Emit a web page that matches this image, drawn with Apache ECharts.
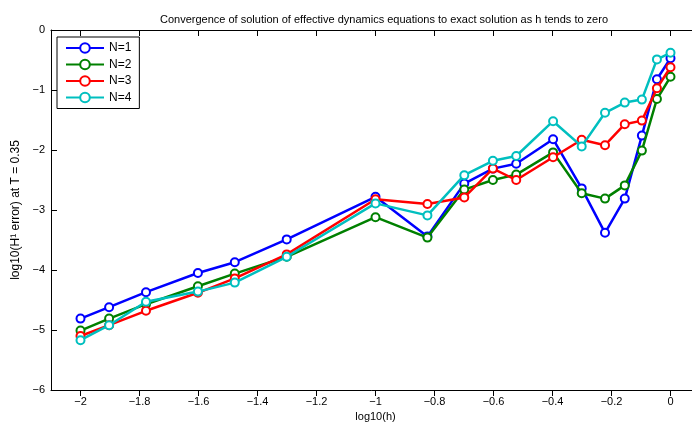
<!DOCTYPE html>
<html>
<head>
<meta charset="utf-8">
<script src="https://cdn.jsdelivr.net/npm/echarts@6/dist/echarts.min.js"></script>
<style>
  html, body { margin: 0; padding: 0; background: #fff; }
  #chart { width: 692px; height: 426px; }
</style>
</head>
<body>
<div id="chart"></div>
<script>
// log10(h) for each run
const logH = [-2, -1.903, -1.778, -1.602, -1.477, -1.301, -1, -0.824, -0.699,
  -0.602, -0.523, -0.398, -0.301, -0.222, -0.155, -0.097, -0.046, 0];

// log10(H1 error) at T = 0.35, one list per N
const errN1 = [-4.81, -4.62, -4.37, -4.05, -3.87, -3.49, -2.78, -3.44, -2.56,
  -2.31, -2.23, -1.82, -2.64, -3.38, -2.81, -1.76, -0.82, -0.47];
const errN2 = [-5.01, -4.81, -4.57, -4.27, -4.06, -3.78, -3.12, -3.46, -2.66,
  -2.50, -2.41, -2.04, -2.72, -2.81, -2.59, -2.01, -1.15, -0.78];
const errN3 = [-5.10, -4.92, -4.68, -4.38, -4.14, -3.74, -2.82, -2.90, -2.79,
  -2.31, -2.50, -2.12, -1.83, -1.92, -1.57, -1.51, -0.97, -0.62];
const errN4 = [-5.17, -4.92, -4.53, -4.36, -4.21, -3.78, -2.89, -3.09, -2.42,
  -2.18, -2.10, -1.52, -1.94, -1.38, -1.21, -1.16, -0.49, -0.38];

const seriesNames = ["N=1", "N=2", "N=3", "N=4"];
const seriesColors = ["#0000ff", "#008000", "#ff0000", "#00bfbf"];
const xTicks = [-2, -1.8, -1.6, -1.4, -1.2, -1, -0.8, -0.6, -0.4, -0.2, 0];

const font = "Liberation Sans, Arial, sans-serif";
const minus = (v) => String(v).replace("-", "\u2212");

const chart = echarts.init(document.getElementById("chart"), null, { renderer: "canvas" });

// MATLAB-style box: black axis lines pinned to the grid edges, ticks into the plot
const axisLine = { onZero: false, lineStyle: { color: "#000", width: 1 } };
const tickIn = { show: true, inside: true, length: 6, lineStyle: { color: "#000", width: 1 } };
const tickOut = { show: true, inside: false, length: 6, lineStyle: { color: "#000", width: 1 } };

const series = [errN1, errN2, errN3, errN4].map((vals, i) => ({
  name: seriesNames[i],
  type: "line",
  data: logH.map((x, k) => [x, vals[k]]),
  symbol: "circle",
  symbolSize: 8,
  showAllSymbol: true,
  lineStyle: { width: 2.5, color: seriesColors[i] },
  itemStyle: { color: "#fff", borderColor: seriesColors[i], borderWidth: 2 },
  emphasis: { disabled: true },
  animation: false,
  z: 2 + i,
}));

chart.setOption({
  animation: false,
  title: {
    text: "Convergence of solution of effective dynamics equations to exact solution as h tends to zero",
    left: 379,
    top: 9,
    textAlign: "center",
    textStyle: { fontFamily: font, fontSize: 11, fontWeight: "normal", color: "#000" },
  },
  grid: { left: 51, right: -8, top: 30, bottom: 36, outerBoundsMode: "none", containLabel: false },
  legend: {
    orient: "vertical",
    left: 57,
    top: 37,
    data: seriesNames,
    itemWidth: 38,
    itemHeight: 12,
    itemGap: 4.5,
    padding: [5, 8, 5, 8],
    borderColor: "#000",
    borderWidth: 1,
    backgroundColor: "#fff",
    textStyle: { fontFamily: font, fontSize: 12, color: "#000", lineHeight: 12 },
    z: 10,
  },
  xAxis: [
    {
      type: "value",
      position: "bottom",
      min: -2.1,
      max: 0.1,
      name: "log10(h)",
      nameLocation: "middle",
      nameGap: 20,
      nameTextStyle: { fontFamily: font, fontSize: 11, color: "#000" },
      axisLine,
      splitLine: { show: false },
      axisTick: { ...tickOut, customValues: xTicks },
      axisLabel: {
        customValues: xTicks,
        formatter: minus,
        fontFamily: font, fontSize: 11, color: "#000", margin: 6,
      },
    },
    {
      type: "value",
      position: "top",
      min: -2.1,
      max: 0.1,
      axisLine,
      splitLine: { show: false },
      axisTick: { ...tickIn, customValues: xTicks },
      axisLabel: { show: false },
    },
  ],
  yAxis: [
    {
      type: "value",
      position: "left",
      min: -6,
      max: 0,
      interval: 1,
      name: "log10(H\u00b9 error) at T = 0.35",
      nameLocation: "middle",
      nameGap: 26,
      nameTextStyle: { fontFamily: font, fontSize: 12, color: "#000" },
      axisLine,
      splitLine: { show: false },
      axisTick: tickIn,
      axisLabel: { formatter: minus, fontFamily: font, fontSize: 11, color: "#000", margin: 6 },
    },
    {
      type: "value",
      position: "right",
      min: -6,
      max: 0,
      interval: 1,
      axisLine,
      splitLine: { show: false },
      axisTick: tickIn,
      axisLabel: { show: false },
    },
  ],
  series,
});
</script>
</body>
</html>
